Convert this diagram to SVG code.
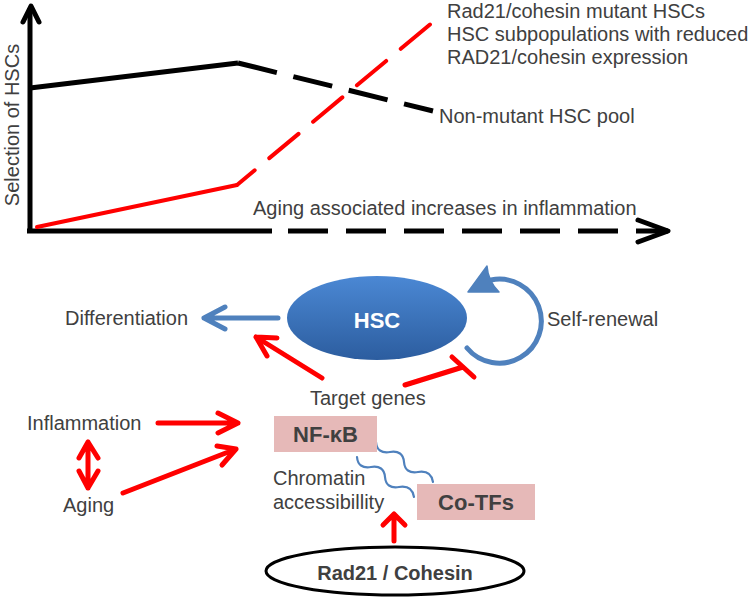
<svg xmlns="http://www.w3.org/2000/svg" width="754" height="600" viewBox="0 0 754 600">
<defs>
<linearGradient id="hscGrad" x1="0" y1="0" x2="0" y2="1">
<stop offset="0" stop-color="#4b88d4"/>
<stop offset="1" stop-color="#2c5d9f"/>
</linearGradient>
<style>
text{font-family:"Liberation Sans",Arial,sans-serif;fill:#404040;font-size:20px}
.b{font-weight:bold;font-size:22px}
.blk{stroke:#000;stroke-width:5;fill:none;stroke-linejoin:round}
.red{stroke:#ff0000;stroke-width:4;fill:none;stroke-linecap:round;stroke-linejoin:round}
.ra{stroke:#ff0000;stroke-width:5;fill:none;stroke-linecap:round;stroke-linejoin:round}
.ba{stroke:#4f81bd;stroke-width:5;fill:none;stroke-linecap:round;stroke-linejoin:round}
.wave{stroke:#4f81bd;stroke-width:2.2;fill:none;stroke-linecap:round}
.box{fill:#e6b9b8}
</style>
</defs>
<rect width="754" height="600" fill="#fff"/>

<g id="chart">
<path class="blk" d="M30,233 V8"/>
<path class="blk" d="M23,22 L31,6 L39,22" stroke-linecap="round"/>
<path class="blk" d="M27,231 H272"/>
<path class="blk" d="M288,231 H668" stroke-dasharray="40 18"/>
<path class="blk" d="M638,220 L668,231 L638,242" stroke-linecap="round"/>
<path class="blk" d="M30,88 L238,63"/>
<path class="blk" d="M238,63 L433,111" stroke-dasharray="40 17"/>
<path class="red" d="M37,227 L237,185"/>
<path class="red" d="M237,185 L433,22" stroke-dasharray="38 19" stroke-dashoffset="15"/>
<text transform="translate(19,125) rotate(-90)" text-anchor="middle">Selection of HSCs</text>
<text x="253" y="215">Aging associated increases in inflammation</text>
<text x="447" y="18">Rad21/cohesin mutant HSCs</text>
<text x="447" y="41">HSC subpopulations with reduced</text>
<text x="447" y="64">RAD21/cohesin expression</text>
<text x="439" y="123">Non-mutant HSC pool</text>
</g>

<g id="connectors">
<path class="ba" d="M278,318 H204 M225,307 L204,318 L225,329"/>
<path class="ba" d="M467,348 A42,42 0 1 0 491,280"/>
<path d="M468,292 L487,266 Q488,281 499,292 Z" fill="#4f81bd" stroke="#4f81bd" stroke-width="1.5" stroke-linejoin="round"/>
<path class="ra" d="M322,378 L256,337 M277,338 L256,337 L267,356"/>
<path class="ra" d="M405,385 L463,367 M452,357 L474,377"/>
<path class="ra" d="M158,423 H238 M218,413 L238,423 L218,433"/>
<path class="ra" d="M123,493 L236,449 M217,446 L236,449 L222,465"/>
<path class="ra" d="M88,442 V488 M79,458 L88,442 L98,458 M79,471 L88,488 L98,471"/>
<path class="ra" d="M394,541 V514 M383,525 L394,514 L405,525"/>
<path class="wave" d="M376,442 q1,12 14,10 t14,10 t14,10 t15,10"/>
<path class="wave" d="M357,457 q1,12 14,10 t14,10 t14,10 t15,10"/>
</g>

<g id="hsc">
<ellipse cx="377" cy="318" rx="90" ry="42" fill="url(#hscGrad)"/>
<text x="377" y="328" text-anchor="middle" class="b" style="fill:#fff">HSC</text>
</g>
<g id="differentiation"><text x="65" y="325">Differentiation</text></g>
<g id="self-renewal"><text x="547" y="326">Self-renewal</text></g>
<g id="target-genes"><text x="310" y="405">Target genes</text></g>
<g id="inflammation"><text x="27" y="430">Inflammation</text></g>
<g id="aging"><text x="63" y="512">Aging</text></g>
<g id="nfkb">
<rect class="box" x="274" y="416" width="103" height="36"/>
<text x="325.5" y="442" text-anchor="middle" class="b">NF-κB</text>
</g>
<g id="chromatin">
<text x="273" y="485">Chromatin</text>
<text x="273" y="509">accessibillity</text>
</g>
<g id="cotfs">
<rect class="box" x="417" y="484" width="118" height="36"/>
<text x="476" y="510" text-anchor="middle" class="b">Co-TFs</text>
</g>
<g id="rad21">
<ellipse cx="395" cy="571" rx="129" ry="24" fill="#fff" stroke="#000" stroke-width="3"/>
<text x="395" y="580" text-anchor="middle" style="font-weight:bold">Rad21 / Cohesin</text>
</g>
</svg>
